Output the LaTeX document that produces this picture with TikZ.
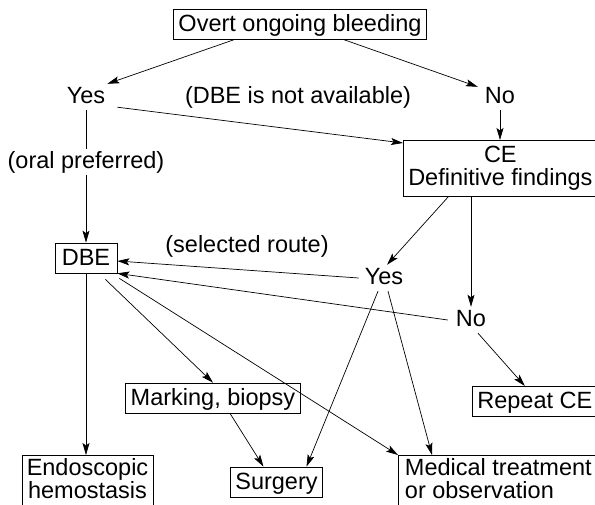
\documentclass[tikz,border=0pt]{standalone}
\usepackage{fontspec}
\setmainfont{Liberation Sans}
\usetikzlibrary{arrows.meta}
\usetikzlibrary{positioning}

\tikzset{
  blk/.style={draw, line width=0.7pt, inner xsep=5pt, inner ysep=2.5pt, text height=20pt, text depth=5pt},
  mblk/.style={draw, line width=0.7pt, inner xsep=4pt, inner ysep=3pt},
  lbl/.style={inner sep=2pt, text height=17pt, text depth=5pt},
  arr/.style={-{Stealth[length=12pt,width=7pt,inset=2.5pt]}, line width=0.7pt},
  pln/.style={line width=0.7pt},
}

\begin{document}
\begin{tikzpicture}[x=1pt, y=-1pt, font=\fontsize{23.5}{23.5}\selectfont]
    \useasboundingbox (0,0) rectangle (595,504);

    % top: bleeding yes / no
    \node[blk] (overt) at (300,24) {Overt ongoing bleeding};
    \node[lbl] (yes1) at (86,97) {Yes};
    \node[lbl] (no1) at (500,97) {No};
    \node[lbl] (notavail) at (298,97) {(DBE is not available)};
    \node[lbl] (oral) at (86,162) {(oral preferred)};
    \node[mblk, align=center, anchor=north west, minimum width=194pt, minimum height=56pt] (ce) at (403,140) {CE\\Definitive findings};

    % middle: findings
    \node[blk, minimum width=62pt] (dbe) at (86,258) {DBE};
    \node[lbl] (selected) at (247,246) {(selected route)};
    \node[lbl] (yes2) at (384,278) {Yes};
    \node[lbl] (no2) at (471,320) {No};

    % bottom: treatment
    \node[blk] (marking) at (213,398) {Marking, biopsy};
    \node[blk, anchor=north west, minimum width=124pt] (repeat) at (472,386) {Repeat CE};
    \node[mblk, align=center, anchor=north, minimum width=131pt, text depth=9pt] (endo) at (87.5,455) {Endoscopic\\hemostasis};
    \node[blk] (surgery) at (276.5,482) {Surgery};
    \node[mblk, align=left, anchor=north west, minimum width=200pt, text depth=9pt] (medical) at (398,455) {Medical treatment\\or observation};

    \draw[arr] ([xshift=-65pt]overt.south) -- (yes1.north east);
    \draw[arr] ([xshift=43pt]overt.south) -- ([xshift=-5pt,yshift=-3pt]no1.north west);
    \draw[arr] ([xshift=10pt,yshift=3pt]yes1.south east) -- ([yshift=-3pt]ce.north west);
    \draw[arr] (no1) -- (no1 |- ce.north);
    \draw[pln] (yes1) -- (yes1 |- oral.north);
    \draw[arr] (oral) -- (oral |- dbe.north);

    \draw[arr] ([xshift=-52pt]ce.south) -- ([xshift=3pt]yes2.north);
    \draw[arr] (no2 |- ce.south) -- (no2);
    \draw[arr] ([xshift=-4pt]yes2.west) -- ([yshift=-3pt]dbe.east);
    \draw[arr] ([xshift=-6pt]no2.west) -- (dbe.south east);

    \draw[arr] (dbe) -- (dbe |- endo.north);
    \draw[arr] ([xshift=-12pt,yshift=-6pt]dbe.south east) -- (marking.north);
    \draw[arr] ([xshift=2pt,yshift=-5pt]dbe.south east) -- (medical.north west);
    \draw[arr] ([xshift=-6pt]yes2.south) -- ([xshift=30pt]surgery.north);
    \draw[arr] ([xshift=4pt]yes2.south) -- ([xshift=34pt]medical.north west);
    \draw[arr] ([xshift=7pt]no2.south) -- ([xshift=-10pt]repeat.north);
    \draw[arr] ([xshift=17pt]marking.south) -- ([xshift=-13pt]surgery.north);
\end{tikzpicture}
\end{document}
